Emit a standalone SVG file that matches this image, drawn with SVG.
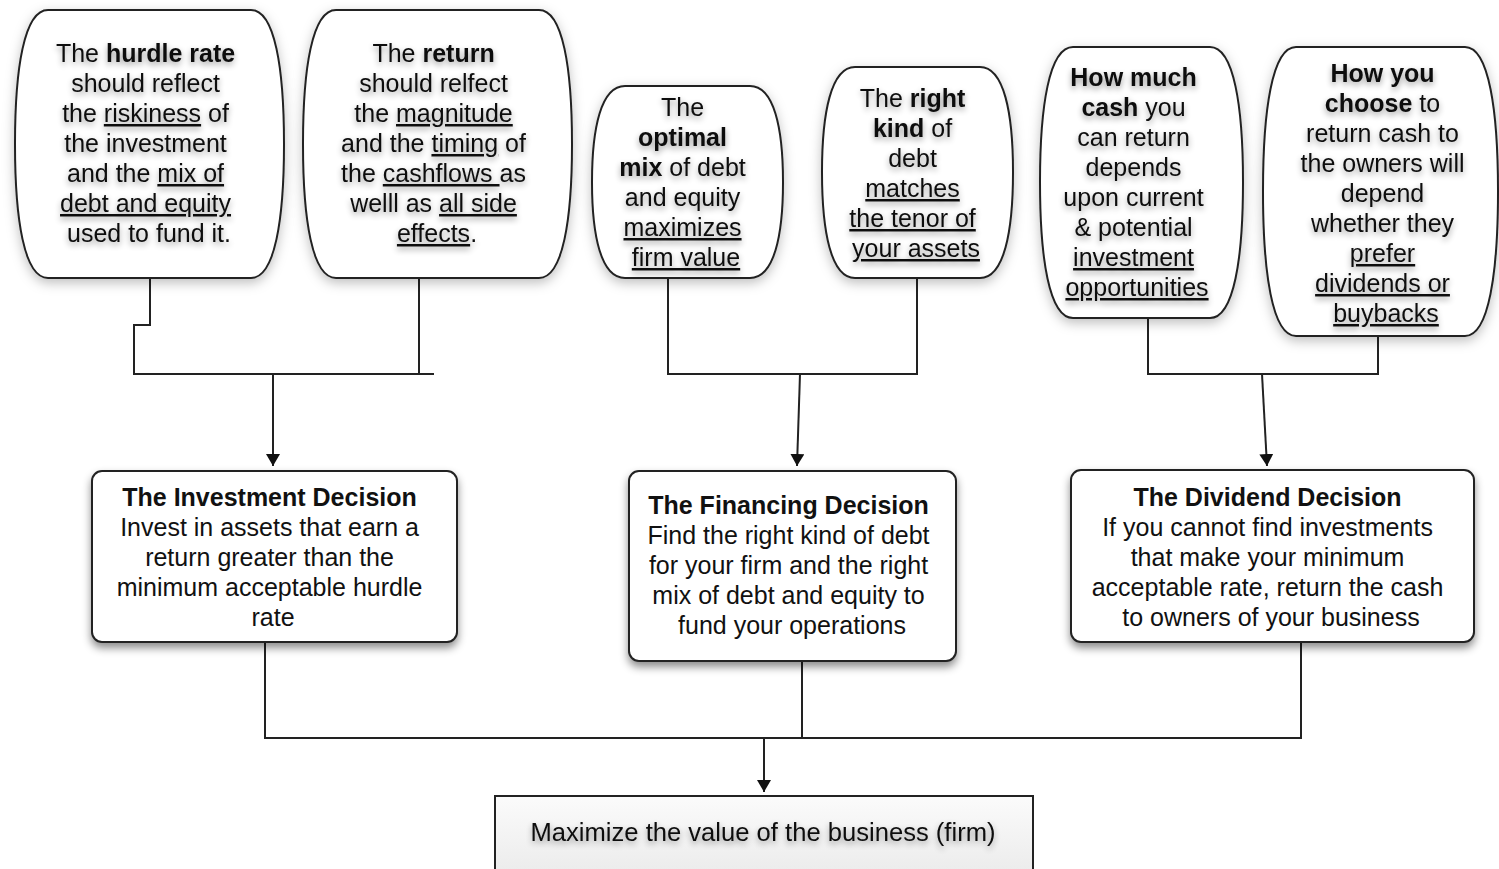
<svg xmlns="http://www.w3.org/2000/svg" width="1499" height="869" viewBox="0 0 1499 869">
<defs>
<filter id="boxShadow" x="-10%" y="-10%" width="120%" height="130%">
<feDropShadow dx="0" dy="5" stdDeviation="4" flood-color="#000" flood-opacity="0.45"/>
</filter>
<filter id="barrelShadow" x="-10%" y="-10%" width="120%" height="130%">
<feDropShadow dx="0" dy="4" stdDeviation="6" flood-color="#000" flood-opacity="0.25"/>
</filter>
<filter id="textShadow" x="-10%" y="-20%" width="120%" height="150%">
<feGaussianBlur in="SourceAlpha" stdDeviation="3"/>
<feOffset dx="0" dy="3" result="b"/>
<feComponentTransfer><feFuncA type="linear" slope="0.4"/></feComponentTransfer>
<feMerge><feMergeNode/><feMergeNode in="SourceGraphic"/></feMerge>
</filter>
<linearGradient id="grayFill" x1="0" y1="0" x2="0" y2="1">
<stop offset="0" stop-color="#fbfbfb"/>
<stop offset="1" stop-color="#e9e9e9"/>
</linearGradient>
<marker id="arrow" viewBox="0 0 12 14" refX="12" refY="7" markerWidth="12" markerHeight="14" markerUnits="userSpaceOnUse" orient="auto">
<path d="M0,0 L12,7 L0,14 Z" fill="#111"/>
</marker>
</defs>
<style>
.shape{fill:#fff;stroke:#222;stroke-width:2}
.barrel{filter:url(#barrelShadow)}
.box{filter:url(#boxShadow)}
.t{font-family:"Liberation Sans",Arial,sans-serif;font-size:25px;fill:#111;text-anchor:middle}
.ts{filter:url(#textShadow)}
.b{font-weight:bold}
.u{text-decoration:underline}
.line{fill:none;stroke:#222;stroke-width:2}
</style>

<g id="connectors">
<polyline class="line" points="150,278 150,325 134,325 134,374 434,374"/>
<line class="line" x1="419" y1="278" x2="419" y2="374"/>
<line class="line" x1="273" y1="374" x2="273" y2="466" marker-end="url(#arrow)"/>
<polyline class="line" points="668,278 668,374 917,374 917,278"/>
<line class="line" x1="800" y1="374" x2="797" y2="466" marker-end="url(#arrow)"/>
<polyline class="line" points="1148,318 1148,374 1378,374 1378,336"/>
<line class="line" x1="1262" y1="374" x2="1267" y2="466" marker-end="url(#arrow)"/>
<polyline class="line" points="265,642 265,738 1301,738 1301,642"/>
<line class="line" x1="802" y1="661" x2="802" y2="738"/>
<line class="line" x1="764" y1="738" x2="764" y2="792" marker-end="url(#arrow)"/>
</g>

<g id="hurdle-rate">
<path class="shape barrel" d="M48,10 H251 C275,10 284,69 284,144 C284,219 275,278 251,278 H48 C24,278 15,219 15,144 C15,69 24,10 48,10 Z"/>
<text class="t ts">
<tspan x="149" y="62">The <tspan class="b">hurdle rate</tspan></tspan>
<tspan x="149" y="92">should reflect</tspan>
<tspan x="149" y="122">the <tspan class="u">riskiness</tspan> of</tspan>
<tspan x="149" y="152">the investment</tspan>
<tspan x="149" y="182">and the <tspan class="u">mix of</tspan></tspan>
<tspan x="149" y="212" class="u">debt and equity</tspan>
<tspan x="149" y="242">used to fund it.</tspan>
</text>
</g>

<g id="return">
<path class="shape barrel" d="M336,10 H539 C563,10 572,69 572,144 C572,219 563,278 539,278 H336 C312,278 303,219 303,144 C303,69 312,10 336,10 Z"/>
<text class="t ts">
<tspan x="437" y="62">The <tspan class="b">return</tspan></tspan>
<tspan x="437" y="92">should relfect</tspan>
<tspan x="437" y="122">the <tspan class="u">magnitude</tspan></tspan>
<tspan x="437" y="152">and the <tspan class="u">timing</tspan> of</tspan>
<tspan x="437" y="182">the <tspan class="u">cashflows </tspan>as</tspan>
<tspan x="437" y="212">welll as <tspan class="u">all side</tspan></tspan>
<tspan x="437" y="242"><tspan class="u">effects</tspan>.</tspan>
</text>
</g>

<g id="optimal-mix">
<path class="shape barrel" d="M625,86 H750 C774,86 783,128 783,182 C783,236 774,278 750,278 H625 C601,278 592,236 592,182 C592,128 601,86 625,86 Z"/>
<text class="t ts">
<tspan x="686" y="116">The</tspan>
<tspan x="686" y="146" class="b">optimal</tspan>
<tspan x="686" y="176"><tspan class="b">mix</tspan> of debt</tspan>
<tspan x="686" y="206">and equity</tspan>
<tspan x="686" y="236" class="u">maximizes</tspan>
<tspan x="686" y="266" class="u">firm value</tspan>
</text>
</g>

<g id="right-kind">
<path class="shape barrel" d="M855,67 H980 C1004,67 1013,113 1013,172 C1013,232 1004,278 980,278 H855 C831,278 822,232 822,172 C822,113 831,67 855,67 Z"/>
<text class="t ts">
<tspan x="916" y="107">The <tspan class="b">right</tspan></tspan>
<tspan x="916" y="137"><tspan class="b">kind</tspan> of</tspan>
<tspan x="916" y="167">debt</tspan>
<tspan x="916" y="197" class="u">matches</tspan>
<tspan x="916" y="227" class="u">the tenor of</tspan>
<tspan x="916" y="257" class="u">your assets</tspan>
</text>
</g>

<g id="how-much-cash">
<path class="shape barrel" d="M1073,47 H1210 C1234,47 1243,107 1243,182 C1243,258 1234,318 1210,318 H1073 C1049,318 1040,258 1040,182 C1040,107 1049,47 1073,47 Z"/>
<text class="t ts">
<tspan x="1137" y="86" class="b">How much</tspan>
<tspan x="1137" y="116"><tspan class="b">cash</tspan> you</tspan>
<tspan x="1137" y="146">can return</tspan>
<tspan x="1137" y="176">depends</tspan>
<tspan x="1137" y="206">upon current</tspan>
<tspan x="1137" y="236">&amp; potential</tspan>
<tspan x="1137" y="266" class="u">investment</tspan>
<tspan x="1137" y="296" class="u">opportunities</tspan>
</text>
</g>

<g id="how-you-choose">
<path class="shape barrel" d="M1296,47 H1465 C1489,47 1498,111 1498,191 C1498,272 1489,336 1465,336 H1296 C1272,336 1263,272 1263,191 C1263,111 1272,47 1296,47 Z"/>
<text class="t ts">
<tspan x="1386" y="82" class="b">How you</tspan>
<tspan x="1386" y="112"><tspan class="b">choose</tspan> to</tspan>
<tspan x="1386" y="142">return cash to</tspan>
<tspan x="1386" y="172">the owners will</tspan>
<tspan x="1386" y="202">depend</tspan>
<tspan x="1386" y="232">whether they</tspan>
<tspan x="1386" y="262" class="u">prefer</tspan>
<tspan x="1386" y="292" class="u">dividends or</tspan>
<tspan x="1386" y="322" class="u">buybacks</tspan>
</text>
</g>

<g id="investment-decision">
<rect class="shape box" x="92" y="471" width="365" height="171" rx="10"/>
<text class="t">
<tspan x="273" y="506" class="b">The Investment Decision</tspan>
<tspan x="273" y="536">Invest in assets that earn a</tspan>
<tspan x="273" y="566">return greater than the</tspan>
<tspan x="273" y="596">minimum acceptable hurdle</tspan>
<tspan x="273" y="626">rate</tspan>
</text>
</g>

<g id="financing-decision">
<rect class="shape box" x="629" y="471" width="327" height="190" rx="10"/>
<text class="t">
<tspan x="792" y="514" class="b">The Financing Decision</tspan>
<tspan x="792" y="544">Find the right kind of debt</tspan>
<tspan x="792" y="574">for your firm and the right</tspan>
<tspan x="792" y="604">mix of debt and equity to</tspan>
<tspan x="792" y="634">fund your operations</tspan>
</text>
</g>

<g id="dividend-decision">
<rect class="shape box" x="1071" y="470" width="403" height="172" rx="10"/>
<text class="t">
<tspan x="1271" y="506" class="b">The Dividend Decision</tspan>
<tspan x="1271" y="536">If you cannot find investments</tspan>
<tspan x="1271" y="566">that make your minimum</tspan>
<tspan x="1271" y="596">acceptable rate, return the cash</tspan>
<tspan x="1271" y="626">to owners of your business</tspan>
</text>
</g>

<g id="maximize-value">
<rect x="495" y="796" width="538" height="90" fill="url(#grayFill)" stroke="#222" stroke-width="2"/>
<text class="t ts" x="763" y="841" font-size="24" textLength="465" lengthAdjust="spacingAndGlyphs">Maximize the value of the business (firm)</text>
</g>
</svg>
